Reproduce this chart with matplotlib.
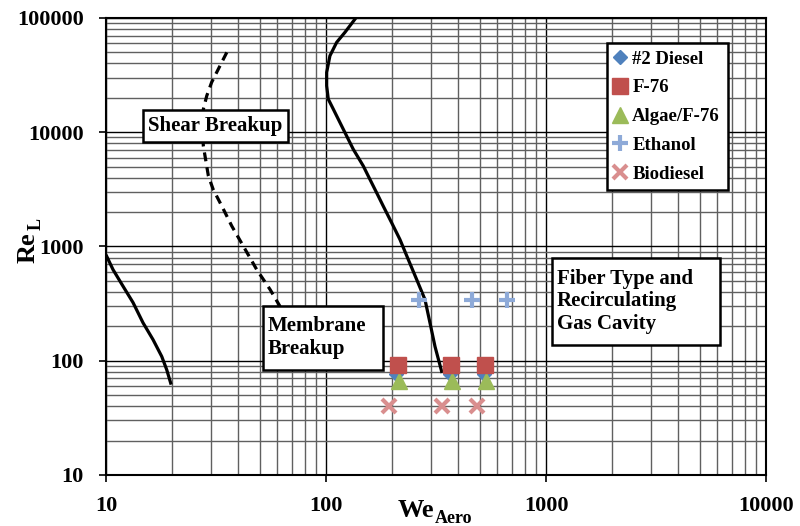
import numpy as np
import matplotlib
matplotlib.use('Agg')
import matplotlib.pyplot as plt
from matplotlib.patches import Rectangle
from matplotlib.ticker import FixedLocator, LogLocator, NullFormatter

plt.rcParams['font.family'] = ['Liberation Serif', 'DejaVu Serif']
plt.rcParams['font.weight'] = 'bold'

# breakup regime boundaries (We_Aero, Re_L)
shear_lo_we = [10.07, 10.76, 11.95, 13.27, 14.73, 16.36, 17.92, 18.88, 19.68]
shear_lo_re = [822, 628, 449, 323, 215, 153, 109, 83.4, 63.7]

shear_we = [35.4, 32.4, 30.2, 28.7, 27.7, 27.4, 27.7, 29.2, 30.7, 33.6, 37.3, 42.1, 48.4, 55.7, 61.8]
shear_re = [50000, 35700, 27300, 20800, 15900, 11000, 7580, 4140, 3160, 2260, 1510, 1006, 629, 420, 299]

memb_we = [135.5, 122, 111.8, 104.2, 100.7, 100.7, 102.4, 108, 119.9, 133, 147.7, 155.6,
           172.9, 182, 198.9, 216.9, 236.6, 258.4, 281.8, 297, 313, 335.5]
memb_re = [97900, 75000, 61200, 46700, 33400, 25500, 19500, 15900, 10600, 7100, 5070, 4140,
           2760, 2260, 1610, 1150, 769, 513, 343, 214, 133, 80.6]

# measured fuels
diesel_we = [209, 366, 521]
diesel_re = [76, 76, 76]
f76_we = [212, 370, 528]
f76_re = [92, 92, 92]
algae_we = [215, 375, 535]
algae_re = [66, 66, 66]
ethanol_we = [265, 462, 663]
ethanol_re = [340, 340, 340]
biodiesel_we = [193, 338, 484]
biodiesel_re = [40, 40, 40]

x_ticks = [10, 100, 1000, 10000]
y_ticks = [10, 100, 1000, 10000, 100000]

W, H = 800, 526
fig = plt.figure(figsize=(W / 100, H / 100), dpi=100)
ax = fig.add_axes([0.1325, 0.097, 0.825, 0.8688])
ax.set_xscale('log')
ax.set_yscale('log')
ax.set_xlim(10, 10000)
ax.set_ylim(10, 100000)

ax.xaxis.set_major_locator(FixedLocator(x_ticks))
ax.yaxis.set_major_locator(FixedLocator(y_ticks))
ax.xaxis.set_minor_locator(LogLocator(base=10, subs=np.arange(2, 10)))
ax.yaxis.set_minor_locator(LogLocator(base=10, subs=np.arange(2, 10)))
ax.xaxis.set_minor_formatter(NullFormatter())
ax.yaxis.set_minor_formatter(NullFormatter())
ax.set_xticklabels([str(v) for v in x_ticks], fontsize=16, fontweight='bold')
ax.set_yticklabels([str(v) for v in y_ticks], fontsize=16, fontweight='bold')
ax.tick_params(which='major', direction='out', length=5, width=1.2)
ax.tick_params(which='minor', length=0)
ax.tick_params(axis='y', which='major', pad=11)
ax.tick_params(axis='x', which='major', pad=10)
ax.grid(which='major', color='black', lw=1.0)
ax.grid(which='minor', color='#606060', lw=1.0)
ax.set_axisbelow(True)
for s in ax.spines.values():
    s.set_linewidth(1.5)

# axis titles with subscripts, placed by hand
def px(x, y):
    return x / W, 1 - y / H

fig.text(*px(398, 517), 'We', fontsize=19, fontweight='bold', ha='left', va='baseline')
fig.text(*px(435, 523), 'Aero', fontsize=13, fontweight='bold', ha='left', va='baseline')
fig.text(*px(35, 263), 'Re', fontsize=19, fontweight='bold', ha='left', va='baseline',
         rotation=90, rotation_mode='anchor')
fig.text(*px(41, 230), 'L', fontsize=13, fontweight='bold', ha='left', va='baseline',
         rotation=90, rotation_mode='anchor')

ax.plot(shear_lo_we, shear_lo_re, color='black', lw=2.3, zorder=3)
ax.plot(shear_we, shear_re, color='black', lw=2.3, ls=(0, (2.8, 1.9)), zorder=3)
ax.plot(memb_we, memb_re, color='black', lw=2.3, zorder=3)

ax.plot(diesel_we, diesel_re, ls='none', marker='D', ms=7, color='#4F81BD', label='#2 Diesel', zorder=5)
ax.plot(f76_we, f76_re, ls='none', marker='s', ms=11, color='#C0504D', label='F-76', zorder=6)
ax.plot(algae_we, algae_re, ls='none', marker='^', ms=11, color='#9BBB59', label='Algae/F-76', zorder=5)
ax.plot(ethanol_we, ethanol_re, ls='none', marker='+', ms=11, mew=3, color='#8EAAD8', label='Ethanol', zorder=5)
ax.plot(biodiesel_we, biodiesel_re, ls='none', marker='x', ms=10, mew=3, color='#D98E8E', label='Biodiesel', zorder=5)

def box(x0, y0, x1, y1):
    ax.add_patch(Rectangle((x0, y0), x1 - x0, y1 - y0, transform=ax.transAxes,
                           facecolor='white', edgecolor='black', lw=1.8, zorder=7))

box(0.0561, 0.7287, 0.2758, 0.7987)
ax.text(0.166, 0.763, 'Shear Breakup', transform=ax.transAxes, ha='center', va='center',
        fontsize=15, fontweight='bold', zorder=8)
box(0.2379, 0.2298, 0.4197, 0.3698)
ax.text(0.245, 0.300, 'Membrane\nBreakup', transform=ax.transAxes, ha='left', va='center',
        fontsize=15, fontweight='bold', linespacing=1.2, zorder=8)
box(0.6758, 0.2845, 0.9303, 0.4748)
ax.text(0.683, 0.380, 'Fiber Type and\nRecirculating\nGas Cavity', transform=ax.transAxes,
        ha='left', va='center', fontsize=15, fontweight='bold', linespacing=1.15, zorder=8)

leg = ax.legend(loc='upper left', bbox_to_anchor=(0.759, 0.9453), fancybox=False,
                frameon=True, framealpha=1, edgecolor='black',
                prop={'weight': 'bold', 'size': 13.5}, handlelength=0.6, handletextpad=0.35,
                labelspacing=0.62, borderpad=0.4, borderaxespad=0)
leg.get_frame().set_linewidth(1.8)
leg.set_zorder(9)

fig.savefig('out.png', dpi=100)
